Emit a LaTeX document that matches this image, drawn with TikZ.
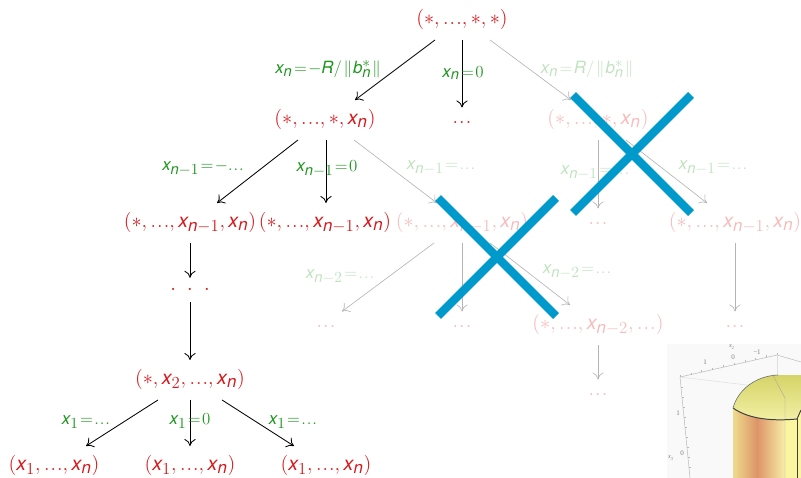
\documentclass[tikz,border=0pt]{standalone}
\usepackage{fontspec}
\setmainfont{TeX Gyre Heros}
\newfontfamily\plotfont{Liberation Serif}
\DeclareSymbolFont{hvit}{TU}{\rmdefault}{m}{it}
\DeclareSymbolFont{hvup}{TU}{\rmdefault}{m}{n}
\DeclareMathSymbol{x}{\mathalpha}{hvit}{`x}
\DeclareMathSymbol{n}{\mathalpha}{hvit}{`n}
\DeclareMathSymbol{b}{\mathalpha}{hvit}{`b}
\DeclareMathSymbol{R}{\mathalpha}{hvit}{`R}
\DeclareMathSymbol{0}{\mathalpha}{hvup}{`0}
\DeclareMathSymbol{1}{\mathalpha}{hvup}{`1}
\DeclareMathSymbol{2}{\mathalpha}{hvup}{`2}
\DeclareMathSizes{14}{14}{12}{9}
\DeclareMathSizes{12}{12}{10.5}{8}
\newcommand{\tdots}{{\ldotp\mkern-2mu\ldotp\mkern-2mu\ldotp}}
\newcommand{\eqs}{\mkern1.5mu{=}\mkern1.5mu}
\newcommand{\bnorm}{\mkern2mu\|\mkern1mu b_n^*\mkern1mu\|}
\usetikzlibrary{arrows.meta}
\definecolor{treered}{HTML}{D7191C}
\definecolor{treegreen}{HTML}{1E961E}
\definecolor{fadered}{HTML}{F7BBBB}
\definecolor{fadegreen}{HTML}{BFE3BF}
\definecolor{fadegray}{HTML}{B4B4B4}
\definecolor{crossblue}{HTML}{0099CC}
\definecolor{domedark}{HTML}{D5D468}
\definecolor{domelight}{HTML}{F3F0A5}
\definecolor{wallleft}{HTML}{EEDC8C}
\definecolor{wallmid}{HTML}{DD9468}
\definecolor{wallright}{HTML}{F8EDA8}
\definecolor{wallface}{HTML}{FBF5A0}
\tikzset{
  treenode/.style={text=treered,font=\fontsize{14}{16}\selectfont,inner xsep=0pt,inner ysep=7pt,text height=10.5pt,text depth=3.5pt},
  fadenode/.style={treenode,text=fadered},
  dotnode/.style={treenode,inner ysep=1pt},
  fadedot/.style={fadenode,inner ysep=1pt},
  edgelab/.style={text=treegreen,font=\fontsize{12}{14}\selectfont,inner sep=0pt},
  fadelab/.style={edgelab,text=fadegreen},
  tree/.style={->,line width=.6pt},
  fadetree/.style={tree,draw=fadegray,line width=.45pt},
  crossbar/.style={draw=crossblue,line width=5.8pt},
  ticklab/.style={font=\plotfont\fontsize{5}{5}\selectfont,text=gray,inner sep=0pt},
  plotline/.style={gray!55,line width=.35pt}
}
\begin{document}
\begin{tikzpicture}[x=.025cm,y=-.025cm,>={Computer Modern Rightarrow[length=5pt,width=8pt]}]
\useasboundingbox (0,0) rectangle (801,478);
% active part of the tree
\node[treenode] (root) at (462,20){$\bigl({*},\tdots,{*},{*}\bigr)$};
\node[treenode] (a) at (325,120){$\bigl({*},\tdots,{*},x_n\bigr)$};
\node[dotnode] (rootdots) at (462,119){$\tdots$};
\node[treenode] (c) at (190,223){$\bigl({*},\tdots,x_{n-1},x_n\bigr)$};
\node[treenode] (d) at (325,223){$\bigl({*},\tdots,x_{n-1},x_n\bigr)$};
\node[treenode,inner ysep=1.5pt] (h) at (190,290){$\cdot\,\,\cdot\,\,\cdot$};
\node[treenode] (i) at (190,380){$\bigl({*},x_2,\tdots,x_n\bigr)$};
\foreach \nm/\px in {j/54,k/190,l/326}{\node[treenode] (\nm) at (\px,466){$\bigl(x_1,\tdots,x_n\bigr)$};}
% faded part
\node[fadenode] (b) at (598,120){$\bigl({*},\tdots,{*},x_n\bigr)$};
\node[fadenode] (e) at (462,223){$\bigl({*},\tdots,x_{n-1},x_n\bigr)$};
\node[fadedot] (f) at (598,220){$\tdots$};
\node[fadenode] (g) at (735,223){$\bigl({*},\tdots,x_{n-1},x_n\bigr)$};
\node[fadedot] (m) at (326,323){$\tdots$};
\node[fadedot] (o) at (462,323){$\tdots$};
\node[fadenode] (p) at (598,325){$\bigl({*},\tdots,x_{n-2},\tdots\bigr)$};
\node[fadedot] (q) at (735,323){$\tdots$};
\node[fadedot] (r) at (598,391){$\tdots$};
% arrows
\draw[tree] ([shift={(-27,0)}]root.south)--([shift={(30,0)}]a.north);
\draw[tree] (root.south)--(rootdots.north);
\draw[fadetree] ([shift={(28,0)}]root.south)--([shift={(-27,0)}]b.north);
\draw[tree] ([shift={(-27,0)}]a.south)--([shift={(27,0)}]c.north);
\draw[tree] ([shift={(1,0)}]a.south)--([shift={(1,0)}]d.north);
\draw[fadetree] ([shift={(29,0)}]a.south)--([shift={(-25,0)}]e.north);
\draw[fadetree] (b.south)--(f.north);
\draw[fadetree] ([shift={(28,0)}]b.south)--([shift={(-28,0)}]g.north);
\draw[tree] (c.south)--(h.north);
\draw[tree] (h.south)--(i.north);
\draw[tree] ([shift={(-32,0)}]i.south)--([shift={(32,0)}]j.north);
\draw[tree] (i.south)--(k.north);
\draw[tree] ([shift={(32,0)}]i.south)--([shift={(-32,0)}]l.north);
\draw[fadetree] ([shift={(-28,0)}]e.south)--([shift={(16,0)}]m.north);
\draw[fadetree] (e.south)--(o.north);
\draw[fadetree] ([shift={(28,0)}]e.south)--([shift={(-28,0)}]p.north);
\draw[fadetree] (p.south)--(r.north);
\draw[fadetree] (g.south)--(q.north);
% edge labels
\node[edgelab] (la) at (328,69){$x_n\eqs{-}R/\bnorm$};
\node[edgelab] (lb) at (463,73){$x_n\eqs0$};
\node[fadelab] (lc) at (587,69){$x_n\eqs R/\bnorm$};
\node[edgelab] (ld) at (203,168){$x_{n-1}\eqs{-}\tdots$};
\node[edgelab] (le) at (327,169){$x_{n-1}\eqs0$};
\node[fadelab] (lf) at (441,168){$x_{n-1}\eqs\tdots$};
\node[fadelab] (lg) at (595,173){$x_{n-1}\eqs\tdots$};
\node[fadelab] (lh) at (713,168){$x_{n-1}\eqs\tdots$};
\node[fadelab] (li) at (340,277){$x_{n-2}\eqs\tdots$};
\node[fadelab] (lj) at (577,272){$x_{n-2}\eqs\tdots$};
\node[edgelab] (lk) at (86,422){$x_1\eqs\tdots$};
\node[edgelab] (ll) at (190,421){$x_1\eqs0$};
\node[edgelab] (lm) at (293,422){$x_1\eqs\tdots$};
% crosses
\foreach \cx/\cy in {632/154,497/257}{
\draw[crossbar] (\cx-59,\cy-59)--(\cx+59,\cy+59);\draw[crossbar] (\cx+59,\cy-59)--(\cx-59,\cy+59);}
% plot in the corner
\begin{scope}
\clip (667,344) rectangle (801,478);
\fill[gray!5] (667,344) rectangle (801,478);
\draw[plotline] (680,377)--(777,355)--(801,362);\draw[plotline] (680,377)--(690,478);\draw[gray!25,line width=.35pt] (680,377)--(755,386);\draw[gray!25,line width=.35pt] (777,355)--(777,375);
\foreach \tk in {0,1,...,9}{\draw[plotline] ({680+10.8*\tk},{377-2.45*\tk})--++(0,-2);}
\foreach \tk in {1,...,9}{\draw[plotline] ({680+1.05*\tk},{377+10*\tk})--++(2,0);}
\shade[top color=domedark,bottom color=domelight] (733,408)..controls (738,390) and (755,376) .. (778,375)--(801,375)--(801,412)--(797,419)..controls (775,421) and (750,420) .. (733,408)--cycle;
\begin{scope}
\clip (733,408)..controls (750,420) and (775,421) .. (797,419)--(801,410)--(801,478)--(733,478)--cycle;
\shade[left color=wallleft,right color=wallmid] (733,400) rectangle (757,478);
\shade[left color=wallmid,right color=wallright] (757,400) rectangle (785,478);
\fill[wallface] (785,400) rectangle (801,478);
\end{scope}
\draw[black!35,line width=.3pt] (773,375)--(778,385)--(785,398)--(785,478);
\draw[black!75,line width=.7pt] (733,408)..controls (750,420) and (775,421) .. (797,419)--(801,410);\draw[black!75,line width=.7pt] (797,419)--(797,478);
\draw[black!55,line width=.45pt] (733,408)..controls (738,390) and (755,376) .. (778,375);
\node[ticklab,font=\plotfont\itshape\fontsize{4.5}{5}\selectfont] (tkx2) at (732,347){x\textsubscript{2}};
\node[ticklab] (tka) at (705,362){1};
\node[ticklab] (tkb) at (733,357){0};
\node[ticklab] (tkc) at (757,352){\textminus1};
\node[ticklab] (tkd) at (678,413){1};
\node[ticklab] (tke) at (682,453){0};
\node[ticklab,font=\plotfont\itshape\fontsize{4.5}{5}\selectfont] (tkx3) at (671,458){x\textsubscript{3}};
\end{scope}
\end{tikzpicture}
\end{document}
